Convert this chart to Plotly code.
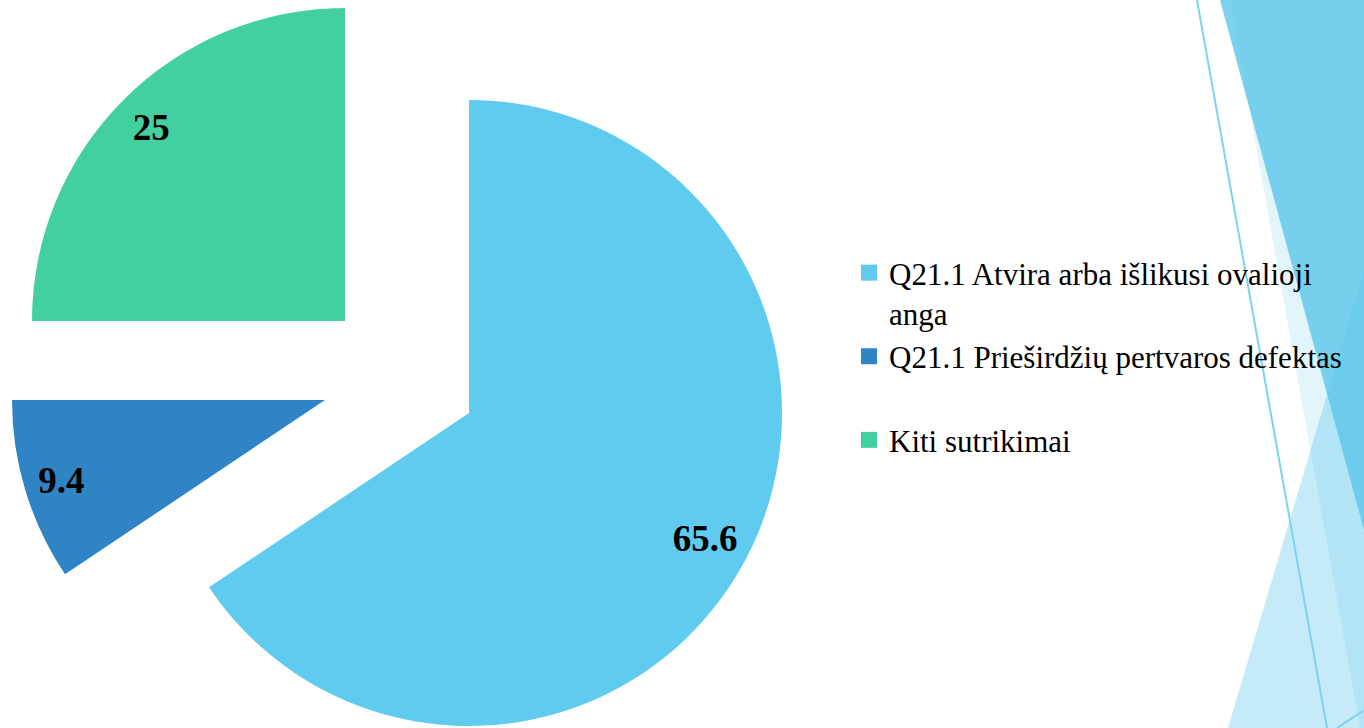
import plotly.graph_objs as go

labels = ["Q21.1 Atvira arba išlikusi ovalioji<br>anga",
          "Q21.1 Prieširdžių pertvaros defektas<br>\u00a0",
          "Kiti sutrikimai"]
values = [65.6, 9.4, 25]
colors = ["#5FCBEF", "#2E84C4", "#42D0A1"]

W, H = 1364, 728
R = 313
# every slice is pulled out on its own, so each one gets its own pie
centers = [(469, 413), (325, 400), (345, 321)]
label_holes = [0.71, 0.76, 0.75]
FONT = "Times New Roman, Liberation Serif, serif"


def dom(cx, cy):
    return dict(x=[(cx - R) / W, (cx + R) / W],
                y=[1 - (cy + R) / H, 1 - (cy - R) / H])


def pth(points):
    s = ""
    for k, (x, y) in enumerate(points):
        s += ("M" if k == 0 else "L") + f"{x / W:.5f},{1 - y / H:.5f} "
    return s + "Z"


fig = go.Figure()

for i in range(len(values)):
    fig.add_trace(go.Pie(
        values=values, labels=labels, sort=False, direction='clockwise', rotation=0,
        marker=dict(colors=[c if j == i else 'rgba(0,0,0,0)' for j, c in enumerate(colors)],
                    line=dict(width=0)),
        textinfo='none', domain=dom(*centers[i]), showlegend=False, hoverinfo='skip'))

for i in range(len(values)):
    fig.add_trace(go.Pie(
        values=values, labels=labels, sort=False, direction='clockwise', rotation=0,
        hole=label_holes[i],
        marker=dict(colors=['rgba(0,0,0,0)'] * len(values), line=dict(width=0)),
        texttemplate=['%{value}' if j == i else '' for j in range(len(values))],
        textposition='inside', insidetextorientation='horizontal',
        textfont=dict(family=FONT, size=37, color='black', weight='bold'),
        insidetextfont=dict(family=FONT, size=37, color='black', weight='bold'),
        domain=dom(*centers[i]), showlegend=False, hoverinfo='skip'))

for i in range(len(values)):
    fig.add_trace(go.Scatter(x=[None], y=[None], mode='markers', name=labels[i],
                             marker=dict(symbol='square', size=16, color=colors[i])))

# slide theme decoration on the right
deco = [
    ([(1230, 0), (1364, 0), (1364, 728), (1360, 728)], 'rgba(91,197,234,0.18)'),
    ([(1228, 728), (1364, 270), (1364, 728)], 'rgba(91,197,234,0.35)'),
    ([(1220, 0), (1364, 0), (1364, 530)], 'rgba(91,197,234,0.8)'),
]
shapes = [dict(type='path', xref='paper', yref='paper', path=pth(p), fillcolor=c,
               line=dict(width=0), layer='below') for p, c in deco]
shapes.append(dict(type='line', xref='paper', yref='paper', x0=1197 / W, y0=1, x1=1327 / W, y1=0,
                   line=dict(color='#7DD3EF', width=2), layer='below'))
shapes.append(dict(type='line', xref='paper', yref='paper', x0=1337 / W, y0=0, x1=1364 / W, y1=1 - 710 / H,
                   line=dict(color='#7DD3EF', width=2), layer='below'))

fig.update_layout(
    width=W, height=H,
    margin=dict(l=0, r=0, t=0, b=0, autoexpand=False),
    paper_bgcolor='white', plot_bgcolor='white',
    xaxis=dict(visible=False), yaxis=dict(visible=False),
    shapes=shapes,
    legend=dict(x=849 / W, y=1 - 246 / H, xanchor='left', yanchor='top', valign='top',
                font=dict(family=FONT, size=31, color='black'), bgcolor='rgba(0,0,0,0)'),
)

fig.write_html("out.html", config={'displayModeBar': False},
               post_script="document.body.style.margin='0px';")
